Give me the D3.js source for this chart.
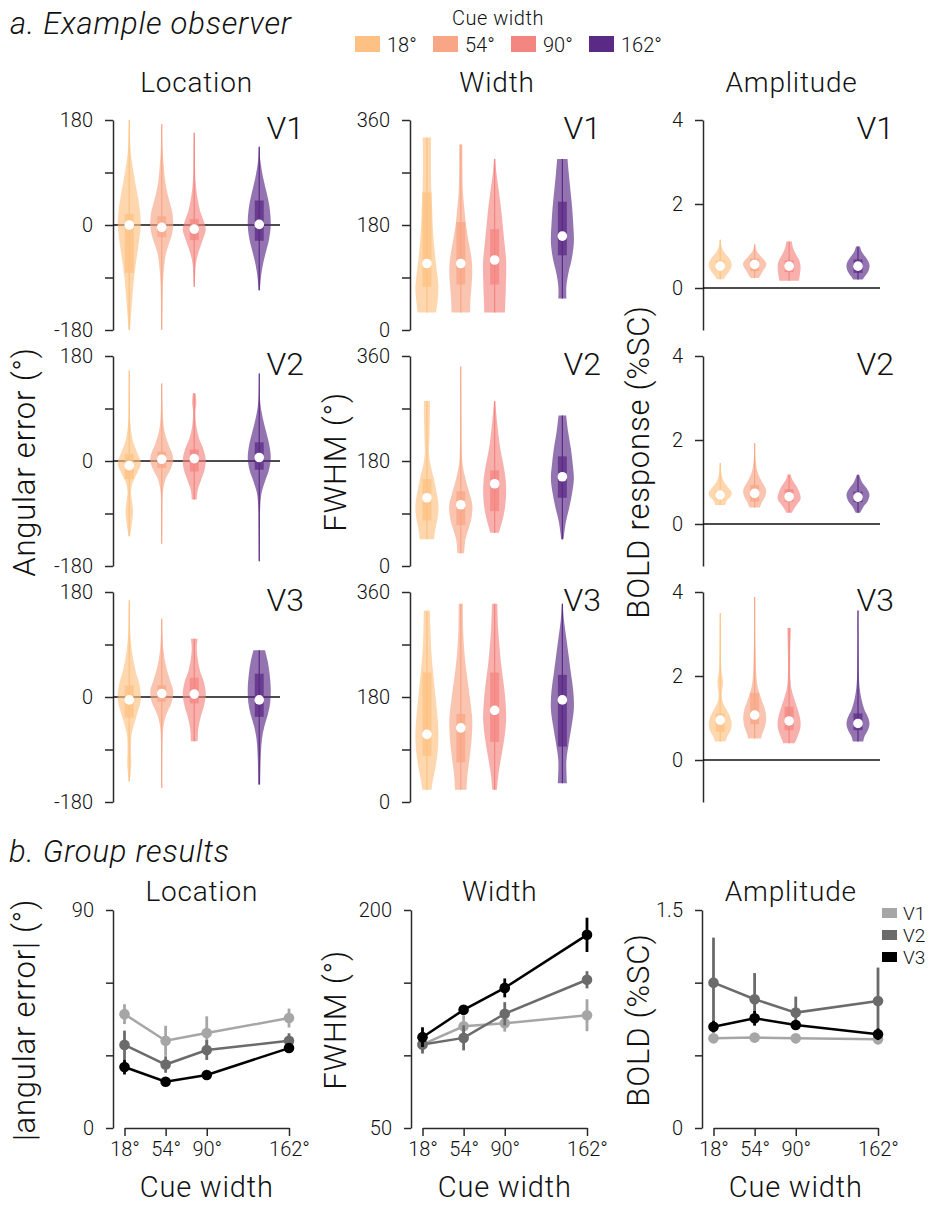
<!DOCTYPE html>
<html>
<head>
<meta charset="utf-8">
<script src="https://cdn.jsdelivr.net/npm/d3@7"></script>
<style>
  body { margin: 0; background: #fff; }
  svg text { font-family: Roboto, "Liberation Sans", sans-serif; font-weight: 300; fill: #111; }
</style>
</head>
<body>
<svg id="fig" width="930" height="1205"></svg>
<script>
// ---- data ----
const cueWidths = [18, 54, 90, 162];
const cueLabels = ["18°", "54°", "90°", "162°"];
const cueColors = ["#fdc283", "#f8a686", "#f48681", "#5b2a86"];
const areas = ["V1", "V2", "V3"];
const areaColors = ["#a6a6a6", "#6b6b6b", "#000000"];

// violin profiles: [value, relative density], plus box stats
const locationViolins = [
  [ // V1
    {q1: -82, med: 0, q3: 19, pts: [[180,0.02],[150,0.06],[120,0.15],[100,0.3],[70,0.55],[43,0.8],[20,0.95],[0,1],[-20,0.9],[-43,0.75],[-65,0.58],[-85,0.45],[-110,0.33],[-130,0.25],[-155,0.15],[-175,0.08],[-180,0.04]]},
    {q1: -21, med: -4, q3: 15, pts: [[173,0.02],[130,0.08],[100,0.18],[75,0.3],[54,0.5],[35,0.75],[20,0.93],[0,1],[-15,0.9],[-32,0.63],[-45,0.42],[-60,0.27],[-94,0.12],[-129,0.07],[-180,0.03]]},
    {q1: -26, med: -7, q3: 10, pts: [[158,0.03],[120,0.06],[80,0.1],[50,0.25],[25,0.5],[5,0.85],[-8,1],[-25,0.75],[-45,0.4],[-65,0.15],[-85,0.08],[-106,0.03]]},
    {q1: -27, med: 1, q3: 42, pts: [[134,0.03],[110,0.1],[80,0.35],[55,0.65],[30,0.9],[0,1],[-25,0.85],[-45,0.6],[-65,0.35],[-85,0.18],[-112,0.05]]}
  ],
  [ // V2
    {q1: -31, med: -8, q3: 12, pts: [[155,0.03],[100,0.05],[64,0.1],[36,0.3],[19,0.6],[2,0.95],[-6,1],[-20,0.7],[-37,0.3],[-54,0.15],[-70,0.25],[-88,0.33],[-111,0.2],[-129,0.05]]},
    {q1: -12, med: 3, q3: 16, pts: [[133,0.02],[100,0.05],[70,0.12],[50,0.25],[30,0.55],[10,0.95],[0,1],[-15,0.75],[-30,0.35],[-50,0.12],[-80,0.05],[-110,0.04],[-142,0.02]]},
    {q1: -18, med: 4, q3: 20, pts: [[116,0.12],[100,0.18],[85,0.1],[60,0.18],[40,0.4],[20,0.8],[2,1],[-15,0.9],[-35,0.55],[-50,0.3],[-66,0.22]]},
    {q1: -15, med: 6, q3: 32, pts: [[150,0.02],[110,0.05],[90,0.15],[70,0.35],[50,0.6],[25,0.9],[5,1],[-15,0.85],[-35,0.5],[-55,0.2],[-80,0.08],[-120,0.05],[-172,0.02]]}
  ],
  [ // V3
    {q1: -35, med: -5, q3: 20, pts: [[166,0.02],[130,0.05],[100,0.12],[70,0.3],[45,0.55],[20,0.9],[-5,1],[-25,0.75],[-45,0.45],[-65,0.2],[-90,0.15],[-115,0.18],[-130,0.12],[-145,0.05]]},
    {q1: -8, med: 6, q3: 20, pts: [[134,0.02],[110,0.06],[80,0.15],[55,0.35],[30,0.7],[10,1],[-10,0.85],[-30,0.4],[-50,0.15],[-80,0.06],[-120,0.03],[-156,0.02]]},
    {q1: -11, med: 5, q3: 33, pts: [[100,0.3],[85,0.22],[65,0.3],[45,0.5],[25,0.85],[5,1],[-15,0.85],[-35,0.55],[-55,0.35],[-76,0.3]]},
    {q1: -34, med: -5, q3: 40, pts: [[80,0.5],[60,0.75],[40,0.9],[15,1],[-10,0.95],[-30,0.75],[-50,0.45],[-70,0.25],[-95,0.15],[-125,0.1],[-150,0.08]]}
  ]
];

const widthViolins = [
  [ // V1
    {q1: 74, med: 114, q3: 236, pts: [[330,0.36],[300,0.35],[270,0.35],[240,0.38],[210,0.45],[180,0.5],[150,0.6],[120,0.75],[95,0.9],[75,1],[55,0.95],[30,0.8]]},
    {q1: 78, med: 114, q3: 185, pts: [[318,0.14],[280,0.14],[240,0.18],[210,0.3],[180,0.45],[150,0.7],[120,0.95],[100,1],[80,0.95],[55,0.85],[30,0.8]]},
    {q1: 78, med: 120, q3: 173, pts: [[293,0.05],[270,0.15],[240,0.35],[210,0.55],[180,0.7],[150,0.85],[120,1],[90,1],[60,0.95],[30,0.9]]},
    {q1: 128, med: 161, q3: 220, pts: [[293,0.45],[270,0.55],[240,0.7],[210,0.85],[180,0.95],[150,1],[120,0.8],[100,0.55],[75,0.35],[54,0.35]]}
  ],
  [ // V2
    {q1: 78, med: 117, q3: 149, pts: [[283,0.27],[250,0.25],[220,0.22],[195,0.18],[175,0.3],[150,0.6],[125,0.85],[105,1],[85,0.95],[65,0.75],[46,0.62]]},
    {q1: 70, med: 105, q3: 128, pts: [[342,0.02],[300,0.03],[250,0.04],[200,0.08],[175,0.15],[150,0.4],[125,0.75],[105,1],[85,0.95],[65,0.7],[45,0.4],[22,0.3]]},
    {q1: 94, med: 141, q3: 164, pts: [[283,0.05],[260,0.15],[230,0.3],[200,0.5],[175,0.75],[150,0.95],[125,1],[100,0.9],[80,0.7],[57,0.37]]},
    {q1: 117, med: 153, q3: 188, pts: [[258,0.33],[230,0.5],[200,0.75],[175,0.9],[150,1],[125,0.85],[100,0.6],[75,0.3],[46,0.1]]}
  ],
  [ // V3
    {q1: 79, med: 116, q3: 222, pts: [[328,0.27],[300,0.3],[270,0.35],[240,0.45],[210,0.6],[180,0.75],[150,0.9],[120,1],[90,0.95],[60,0.75],[35,0.5],[21,0.4]]},
    {q1: 68, med: 127, q3: 151, pts: [[340,0.18],[300,0.2],[260,0.3],[230,0.45],[200,0.65],[170,0.85],[140,1],[110,0.95],[80,0.8],[50,0.6],[21,0.5]]},
    {q1: 103, med: 157, q3: 222, pts: [[340,0.23],[300,0.3],[260,0.45],[230,0.6],[200,0.8],[170,0.95],[140,1],[110,0.85],[80,0.6],[50,0.35],[21,0.2]]},
    {q1: 95, med: 175, q3: 218, pts: [[340,0.03],[310,0.15],[280,0.35],[250,0.55],[220,0.75],[190,0.95],[160,1],[130,0.8],[100,0.55],[70,0.35],[32,0.4]]}
  ]
];

const amplitudeViolins = [
  [ // V1
    {q1: 0.42, med: 0.52, q3: 0.65, pts: [[1.15,0.04],[1.0,0.1],[0.85,0.35],[0.7,0.8],[0.55,1],[0.4,0.8],[0.3,0.5],[0.21,0.3]]},
    {q1: 0.40, med: 0.56, q3: 0.70, pts: [[1.04,0.04],[0.9,0.15],[0.75,0.55],[0.6,1],[0.5,0.95],[0.4,0.7],[0.3,0.5],[0.24,0.35]]},
    {q1: 0.38, med: 0.52, q3: 0.66, pts: [[1.11,0.24],[0.95,0.35],[0.8,0.6],[0.65,0.9],[0.5,1],[0.35,0.95],[0.25,0.9],[0.17,0.85]]},
    {q1: 0.36, med: 0.52, q3: 0.68, pts: [[0.99,0.17],[0.85,0.35],[0.7,0.75],[0.55,1],[0.4,0.9],[0.28,0.6],[0.2,0.4]]}
  ],
  [ // V2
    {q1: 0.57, med: 0.69, q3: 0.79, pts: [[1.45,0.03],[1.2,0.1],[1.05,0.25],[0.9,0.6],[0.75,1],[0.65,0.9],[0.55,0.55],[0.45,0.45]]},
    {q1: 0.53, med: 0.73, q3: 0.93, pts: [[1.92,0.03],[1.6,0.06],[1.3,0.2],[1.1,0.45],[0.95,0.75],[0.8,1],[0.65,0.9],[0.5,0.6],[0.39,0.45]]},
    {q1: 0.53, med: 0.65, q3: 0.83, pts: [[1.18,0.12],[1.05,0.3],[0.9,0.65],[0.75,0.9],[0.6,1],[0.45,0.65],[0.35,0.4],[0.27,0.25]]},
    {q1: 0.52, med: 0.64, q3: 0.77, pts: [[1.17,0.1],[1.0,0.35],[0.85,0.75],[0.7,1],[0.55,0.85],[0.42,0.5],[0.27,0.2]]}
  ],
  [ // V3
    {q1: 0.67, med: 0.95, q3: 1.11, pts: [[3.5,0.02],[3.0,0.04],[2.5,0.06],[2.1,0.12],[1.85,0.25],[1.6,0.15],[1.4,0.2],[1.2,0.55],[1.0,0.9],[0.85,1],[0.7,0.9],[0.55,0.6],[0.44,0.45]]},
    {q1: 0.85, med: 1.07, q3: 1.60, pts: [[3.88,0.02],[3.3,0.03],[2.8,0.06],[2.4,0.1],[2.0,0.15],[1.7,0.3],[1.4,0.65],[1.2,0.9],[1.0,1],[0.8,0.9],[0.65,0.7],[0.51,0.55]]},
    {q1: 0.71, med: 0.93, q3: 1.27, pts: [[3.14,0.15],[2.5,0.1],[2.0,0.1],[1.7,0.2],[1.45,0.45],[1.2,0.75],[1.0,0.95],[0.8,1],[0.6,0.8],[0.4,0.5]]},
    {q1: 0.71, med: 0.87, q3: 1.11, pts: [[3.56,0.02],[3.0,0.03],[2.5,0.05],[2.0,0.08],[1.7,0.15],[1.45,0.3],[1.2,0.55],[1.0,0.9],[0.85,1],[0.7,0.85],[0.55,0.55],[0.44,0.45]]}
  ]
];

// group results: rows V1, V2, V3; columns = cue widths
const groupLocationMean = [[47, 36, 39.2, 45.4], [34.3, 26.2, 32.2, 36], [25.2, 19.1, 21.9, 33]];
const groupLocationErr  = [[4.1, 6.2, 6.9, 3.9], [5.9, 3.4, 4.1, 3.1], [3.1, 1, 1, 2]];
const groupWidthMean = [[107.5, 120, 122, 127.6], [107.5, 112, 128.6, 152], [112.5, 131.3, 146.4, 182.9]];
const groupWidthErr  = [[5, 7.4, 5.7, 11], [6.3, 8.6, 8, 5.9], [6.8, 2, 6.5, 11.8]];
const groupAmpMean = [[0.617, 0.622, 0.617, 0.61], [1.0, 0.886, 0.794, 0.874], [0.697, 0.755, 0.709, 0.645]];
const groupAmpErr  = [[0.03, 0.03, 0.03, 0.03], [0.31, 0.18, 0.11, 0.23], [0.04, 0.05, 0.03, 0.04]];

// ---- drawing ----
const svg = d3.select("#fig");
svg.append("rect").attr("width", 930).attr("height", 1205).attr("fill", "#fff");

function styleAxis(g, size) {
  g.attr("font-family", null).attr("font-size", null);
  g.selectAll(".domain, .tick line").attr("stroke", "#2a2a2a").attr("stroke-width", 1.5);
  g.selectAll("text").style("font-size", size + "px").attr("fill", "#111");
}

// big text helper (wider spacing to match the original face)
function bigText(sel, size) {
  return sel.style("font-size", size + "px").style("letter-spacing", "0.8px");
}

// section headings
bigText(svg.append("text").attr("x", 10).attr("y", 34), 31).style("font-style", "italic")
  .text("a. Example observer");
bigText(svg.append("text").attr("x", 9).attr("y", 862), 31).style("font-style", "italic")
  .text("b. Group results");

// cue width legend
svg.append("text").attr("x", 498).attr("y", 25).attr("text-anchor", "middle").style("font-size", "20px")
  .style("letter-spacing", "0.5px").text("Cue width");
const legX = [355, 433, 511, 589];
cueLabels.forEach((lab, i) => {
  svg.append("rect").attr("x", legX[i]).attr("y", 36).attr("width", 25).attr("height", 16).attr("fill", cueColors[i]);
  svg.append("text").attr("x", legX[i] + 32).attr("y", 52).style("font-size", "20px").text(lab);
});

const rowTops = [120, 356, 592], rowH = 210;
const violinCols = [
  {name: "Location", ax: 113, w: 167, dom: [-180, 180], ticks: [-180, -90, 0, 90, 180], labeled: [-180, 0, 180], zero: true, data: locationViolins, ylab: "Angular error (°)", ylabX: 35},
  {name: "Width", ax: 410, w: 174, dom: [0, 360], ticks: [0, 90, 180, 270, 360], labeled: [0, 180, 360], zero: false, data: widthViolins, ylab: "FWHM (°)", ylabX: 346},
  {name: "Amplitude", ax: 703, w: 177, dom: [-1, 4], ticks: [0, 2, 4], labeled: [0, 2, 4], zero: true, data: amplitudeViolins, ylab: "BOLD response (%SC)", ylabX: 649}
];
const wScale = d3.scaleLinear().domain([0, 1]).range([0, 11.5]);

violinCols.forEach(col => {
  const x = d3.scaleLinear().domain([0, 185]).range([col.ax, col.ax + col.w]);
  bigText(svg.append("text").attr("x", col.ax + col.w / 2).attr("y", 92).attr("text-anchor", "middle"), 28)
    .text(col.name);
  bigText(svg.append("text").attr("transform", `translate(${col.ylabX},462) rotate(-90)`).attr("text-anchor", "middle"), 31)
    .text(col.ylab);

  rowTops.forEach((top, r) => {
    const y = d3.scaleLinear().domain(col.dom).range([top + rowH, top]);
    const g = svg.append("g");
    const axis = d3.axisLeft(y).tickValues(col.ticks).tickSize(8).tickSizeOuter(0).tickPadding(12)
      .tickFormat(d => col.labeled.includes(d) ? String(d) : "");
    g.append("g").attr("transform", `translate(${col.ax},0)`).call(axis).call(a => styleAxis(a, 20));
    if (col.zero) {
      g.append("line").attr("x1", col.ax).attr("x2", col.ax + col.w).attr("y1", y(0)).attr("y2", y(0))
        .attr("stroke", "#111").attr("stroke-width", 1.5);
    }
    col.data[r].forEach((v, i) => {
      const cx = x(cueWidths[i]);
      const area = d3.area()
        .y(d => y(d[0]))
        .x0(d => cx - wScale(d[1]))
        .x1(d => cx + wScale(d[1]))
        .curve(d3.curveCatmullRom.alpha(0.5));
      g.append("path").attr("d", area(v.pts)).attr("fill", cueColors[i]).attr("fill-opacity", 0.65);
      const ext = d3.extent(v.pts, d => d[0]);
      g.append("line").attr("x1", cx).attr("x2", cx).attr("y1", y(ext[0])).attr("y2", y(ext[1]))
        .attr("stroke", cueColors[i]).attr("stroke-width", 1.2);
      g.append("rect").attr("x", cx - 4.5).attr("width", 9).attr("y", y(v.q3)).attr("height", y(v.q1) - y(v.q3))
        .attr("fill", cueColors[i]).attr("fill-opacity", 0.75);
      g.append("circle").attr("cx", cx).attr("cy", y(v.med)).attr("r", 4.8).attr("fill", "#fff");
    });
    g.append("text").attr("x", col.ax + 191).attr("y", top + 19).attr("text-anchor", "end")
      .style("font-size", "32px").text(areas[r]);
  });
});

// ---- group results ----
const gTop = 910, gBot = 1128;
const groupCols = [
  {name: "Location", ax: 113, dom: [0, 90], ticks: [0, 30, 60, 90], labeled: [0, 90], mean: groupLocationMean, err: groupLocationErr, ylab: "|angular error| (°)", ylabX: 35},
  {name: "Width", ax: 411, dom: [50, 200], ticks: [50, 100, 150, 200], labeled: [50, 200], mean: groupWidthMean, err: groupWidthErr, ylab: "FWHM (°)", ylabX: 346},
  {name: "Amplitude", ax: 702, dom: [0, 1.5], ticks: [0, 0.5, 1, 1.5], labeled: [0, 1.5], mean: groupAmpMean, err: groupAmpErr, ylab: "BOLD (%SC)", ylabX: 649}
];

groupCols.forEach(col => {
  const x = d3.scaleLinear().domain([18, 162]).range([col.ax + 11.5, col.ax + 176]);
  const y = d3.scaleLinear().domain(col.dom).range([gBot, gTop]);
  const g = svg.append("g");
  bigText(g.append("text").attr("x", (x(18) + x(162)) / 2 - 5).attr("y", 901).attr("text-anchor", "middle"), 28)
    .text(col.name);
  bigText(g.append("text").attr("transform", `translate(${col.ylabX},1020) rotate(-90)`).attr("text-anchor", "middle"), 31)
    .text(col.ylab);
  g.append("g").attr("transform", `translate(${col.ax},0)`)
    .call(d3.axisLeft(y).tickValues(col.ticks).tickSize(7).tickSizeOuter(0).tickPadding(12)
      .tickFormat(d => col.labeled.includes(d) ? String(d) : ""))
    .call(a => styleAxis(a, 20));
  g.append("g").attr("transform", `translate(0,${gBot})`)
    .call(d3.axisBottom(x).tickValues(cueWidths).tickSize(8).tickSizeOuter(0).tickPadding(6)
      .tickFormat((d, i) => cueLabels[i]))
    .call(a => styleAxis(a, 20));
  bigText(g.append("text").attr("x", (x(18) + x(162)) / 2).attr("y", 1197).attr("text-anchor", "middle"), 29)
    .text("Cue width");

  const line = d3.line().x((d, i) => x(cueWidths[i])).y(d => y(d));
  areas.forEach((a, k) => {
    const c = areaColors[k];
    col.mean[k].forEach((m, i) => {
      g.append("line").attr("x1", x(cueWidths[i])).attr("x2", x(cueWidths[i]))
        .attr("y1", y(m - col.err[k][i])).attr("y2", y(m + col.err[k][i]))
        .attr("stroke", c).attr("stroke-width", 2.8);
    });
    g.append("path").attr("d", line(col.mean[k])).attr("fill", "none").attr("stroke", c).attr("stroke-width", 2.5);
    g.selectAll(null).data(col.mean[k]).enter().append("circle")
      .attr("cx", (d, i) => x(cueWidths[i])).attr("cy", d => y(d)).attr("r", 5.3).attr("fill", c);
  });
});

// area legend
areas.forEach((a, k) => {
  svg.append("rect").attr("x", 882).attr("y", 908 + k * 22).attr("width", 15).attr("height", 10).attr("fill", areaColors[k]);
  svg.append("text").attr("x", 903).attr("y", 920 + k * 22).style("font-size", "19px").text(a);
});
</script>
</body>
</html>
